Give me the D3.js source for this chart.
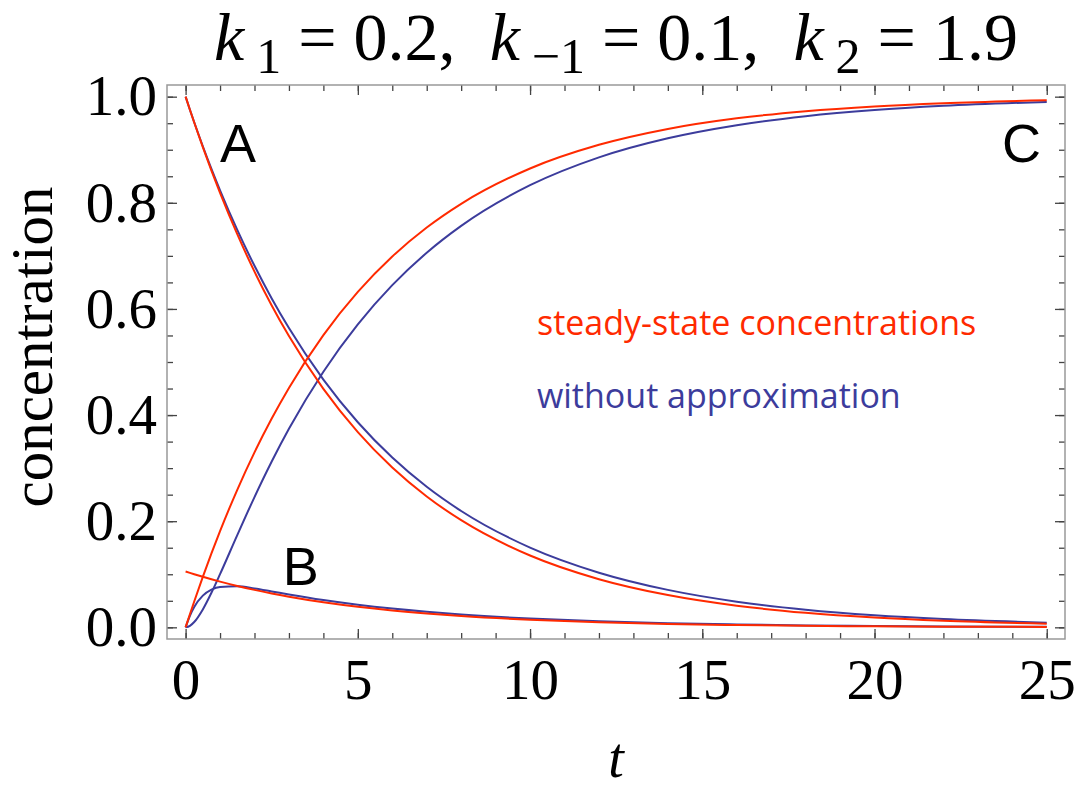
<!DOCTYPE html>
<html>
<head>
<meta charset="utf-8">
<script src="https://cdn.jsdelivr.net/npm/d3@7"></script>
<style>
  body { margin: 0; background: #fff; }
  svg { display: block; }
  .title, .title tspan { font-family: "Liberation Serif", "Times New Roman", serif; }
</style>
</head>
<body>
<div class="container"></div>
<script>
// SIZE
const width = 1079;
const height = 788;

// frame of the plot area, in pixels
const margin = { top: 85, right: 14, bottom: 149, left: 167 };
const innerW = width - margin.left - margin.right;
const innerH = height - margin.top - margin.bottom;

const serif = "'Liberation Serif', 'Times New Roman', Times, serif";

// DATA
const tValues = [0, 0.125, 0.25, 0.5, 0.75, 1, 1.5, 2, 2.5, 3, 4, 5, 6, 7, 8, 10, 12, 14, 16, 18, 20, 22, 25];

// steady-state approximation (red)
const ssA = [1, 0.97531, 0.95123, 0.90484, 0.86071, 0.81873, 0.74082, 0.67032, 0.60653, 0.54881, 0.44933, 0.36788, 0.30119, 0.2466, 0.2019, 0.13534, 0.09072, 0.06081, 0.04076, 0.02732, 0.01832, 0.01228, 0.00674];
const ssB = [0.10526, 0.10266, 0.10013, 0.09524, 0.0906, 0.08618, 0.07798, 0.07056, 0.06384, 0.05777, 0.0473, 0.03872, 0.0317, 0.02596, 0.02125, 0.01425, 0.00955, 0.0064, 0.00429, 0.00288, 0.00193, 0.00129, 0.00071];
const ssC = [0, 0.02469, 0.04877, 0.09516, 0.13929, 0.18127, 0.25918, 0.32968, 0.39347, 0.45119, 0.55067, 0.63212, 0.69881, 0.7534, 0.7981, 0.86466, 0.90928, 0.93919, 0.95924, 0.97268, 0.98168, 0.98772, 0.99326];

// without approximation (blue)
const exA = [1, 0.97545, 0.95175, 0.90656, 0.86395, 0.82362, 0.74893, 0.68125, 0.61977, 0.56388, 0.4668, 0.38643, 0.3199, 0.26482, 0.21922, 0.15023, 0.10295, 0.07055, 0.04835, 0.03314, 0.0227, 0.01556, 0.00883];
const exB = [0, 0.02184, 0.03831, 0.05971, 0.07097, 0.07617, 0.0773, 0.07325, 0.06772, 0.062, 0.05151, 0.04267, 0.03533, 0.02924, 0.02421, 0.01659, 0.01137, 0.00779, 0.00534, 0.00366, 0.00251, 0.00172, 0.00097];
const exC = [0, 0.00271, 0.00994, 0.03373, 0.06508, 0.10021, 0.17377, 0.2455, 0.31251, 0.37412, 0.48169, 0.5709, 0.64477, 0.70594, 0.75657, 0.83318, 0.88568, 0.92166, 0.94631, 0.9632, 0.97479, 0.98272, 0.9902];

// ticks
const xMajor = [0, 5, 10, 15, 20, 25];
const xMinor = d3.range(0, 26, 1);
const yMajor = [0, 0.2, 0.4, 0.6, 0.8, 1.0];
const yMinor = d3.range(0, 1.0001, 0.05);

// labels
const curveLabels = [
  { text: "A", t: 1.0, c: 0.877 },
  { text: "B", t: 2.82, c: 0.079 },
  { text: "C", t: 23.7, c: 0.877 }
];
const legendItems = [
  { text: "steady-state concentrations", t: 10.2, c: 0.551, color: "#ff2a00" },
  { text: "without approximation", t: 10.2, c: 0.413, color: "#3c3c9c" }
];
const titleParts = [
  ["k", "1", "\u00a0=\u00a00.2,\u00a0\u00a0"],
  ["k", "\u22121", "\u00a0=\u00a00.1,\u00a0\u00a0"],
  ["k", "2", "\u00a0=\u00a01.9"]
];

const red = "#ff2a00";
const blue = "#3c3c9c";

// SCALES
const xScale = d3.scaleLinear().domain([-0.54, 25.53]).range([0, innerW]);
const yScale = d3.scaleLinear().domain([-0.022, 1.022]).range([innerH, 0]);

const svg = d3.select(".container")
  .append("svg")
  .attr("width", width)
  .attr("height", height);

const g = svg.append("g")
  .attr("transform", `translate(${margin.left},${margin.top})`);

// AXES: ticks point inward on all four sides
function tickStyle(sel) {
  sel.select(".domain").remove();
  sel.selectAll(".tick line").attr("stroke", "#444").attr("stroke-width", 1.3);
  sel.selectAll(".tick text")
    .attr("font-family", serif)
    .attr("font-size", 57)
    .attr("fill", "#000");
}

const majorLen = 10, minorLen = 6;

// bottom
g.append("g").attr("transform", `translate(0,${innerH})`)
  .call(d3.axisBottom(xScale).tickValues(xMinor).tickSize(-minorLen).tickFormat(""))
  .call(tickStyle);
g.append("g").attr("transform", `translate(0,${innerH})`)
  .call(d3.axisBottom(xScale).tickValues(xMajor).tickSize(-majorLen).tickPadding(20).tickFormat(d3.format("d")))
  .call(tickStyle);
// top
g.append("g")
  .call(d3.axisTop(xScale).tickValues(xMinor).tickSize(-minorLen).tickFormat(""))
  .call(tickStyle);
g.append("g")
  .call(d3.axisTop(xScale).tickValues(xMajor).tickSize(-majorLen).tickFormat(""))
  .call(tickStyle);
// left
g.append("g")
  .call(d3.axisLeft(yScale).tickValues(yMinor).tickSize(-minorLen).tickFormat(""))
  .call(tickStyle);
g.append("g")
  .call(d3.axisLeft(yScale).tickValues(yMajor).tickSize(-majorLen).tickPadding(10).tickFormat(d3.format(".1f")))
  .call(tickStyle);
// right
g.append("g").attr("transform", `translate(${innerW},0)`)
  .call(d3.axisRight(yScale).tickValues(yMinor).tickSize(-minorLen).tickFormat(""))
  .call(tickStyle);
g.append("g").attr("transform", `translate(${innerW},0)`)
  .call(d3.axisRight(yScale).tickValues(yMajor).tickSize(-majorLen).tickFormat(""))
  .call(tickStyle);

// frame
g.append("rect")
  .attr("width", innerW)
  .attr("height", innerH)
  .attr("fill", "none")
  .attr("stroke", "#999")
  .attr("stroke-width", 1.5);

// LINES
const line = d3.line()
  .x(d => xScale(d[0]))
  .y(d => yScale(d[1]))
  .curve(d3.curveMonotoneX);

const series = [
  { values: exA, color: blue },
  { values: exB, color: blue },
  { values: exC, color: blue },
  { values: ssA, color: red },
  { values: ssB, color: red },
  { values: ssC, color: red }
];

g.selectAll("path.series")
  .data(series)
  .enter()
  .append("path")
  .attr("class", "series")
  .attr("fill", "none")
  .attr("stroke", d => d.color)
  .attr("stroke-width", 2)
  .attr("d", d => line(tValues.map((t, i) => [t, d.values[i]])));

// curve letters
g.selectAll("text.curve")
  .data(curveLabels)
  .enter()
  .append("text")
  .attr("class", "curve")
  .attr("x", d => xScale(d.t))
  .attr("y", d => yScale(d.c))
  .attr("font-family", "'Liberation Sans', Arial, sans-serif")
  .attr("font-size", 54)
  .text(d => d.text);

// legend
g.selectAll("text.legend")
  .data(legendItems)
  .enter()
  .append("text")
  .attr("class", "legend")
  .attr("x", d => xScale(d.t))
  .attr("y", d => yScale(d.c))
  .attr("font-family", "'Open Sans', sans-serif")
  .attr("font-size", 34)
  .attr("fill", d => d.color)
  .text(d => d.text);

// AXIS TITLES
svg.append("text")
  .attr("x", margin.left + innerW / 2)
  .attr("y", 777)
  .attr("text-anchor", "middle")
  .attr("font-family", serif)
  .attr("font-style", "italic")
  .attr("font-size", 56)
  .text("t");

svg.append("text")
  .attr("transform", "translate(52,347) rotate(-90)")
  .attr("text-anchor", "middle")
  .attr("font-family", serif)
  .attr("font-size", 59)
  .text("concentration");

// TITLE with subscripts
const title = svg.append("text")
  .attr("class", "title")
  .attr("x", margin.left + innerW / 2)
  .attr("y", 60)
  .attr("text-anchor", "middle")
  .attr("font-size", 68);

titleParts.forEach(p => {
  title.append("tspan").attr("font-style", "italic").text(p[0]);
  title.append("tspan").attr("font-size", 50).attr("dx", 12).attr("dy", 13).text(p[1]);
  title.append("tspan").attr("dy", -13).text(p[2]);
});
</script>
</body>
</html>
